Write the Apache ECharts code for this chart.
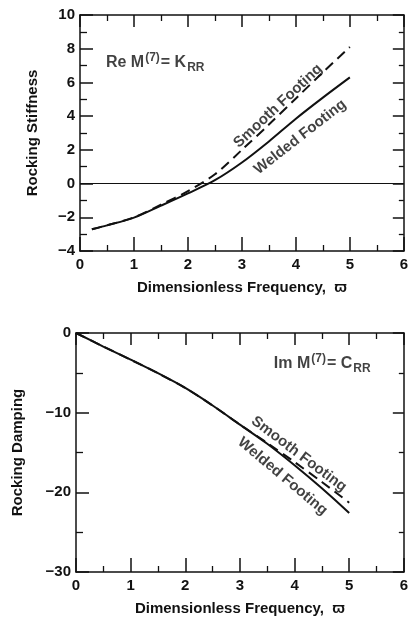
<!DOCTYPE html>
<html><head><meta charset="utf-8">
<script src="https://cdn.jsdelivr.net/npm/echarts@6/dist/echarts.min.js"></script>
<style>html,body{margin:0;padding:0;background:#fff}#c{width:411px;height:619px}</style>
</head><body><div id="c"></div>
<script>
// ---- data ----
const topFreq  = [0.22, 0.5, 1, 1.5, 2, 2.5, 3, 3.5, 4, 4.5, 5];
const weldedK  = [-2.71, -2.48, -2.02, -1.31, -0.58, 0.2, 1.25, 2.5, 3.85, 5.1, 6.3];
const smoothK  = [-2.71, -2.48, -2.0, -1.25, -0.45, 0.55, 2.0, 3.5, 5.05, 6.6, 8.1];
const botFreq  = [0, 0.5, 1, 1.5, 2, 2.5, 3, 3.5, 4, 4.5, 5];
const weldedC  = [0, -1.7, -3.35, -5.05, -6.9, -9.1, -11.5, -13.9, -16.6, -19.5, -22.6];
const smoothC  = [0, -1.7, -3.35, -5.05, -6.9, -9.1, -11.5, -13.8, -16.2, -18.7, -21.3];
const xTicks   = [0, 1, 2, 3, 4, 5, 6];
const yTicksTop = [-4, -2, 0, 2, 4, 6, 8, 10];
const yTicksBot = [-30, -20, -10, 0];
const xTitle = 'Dimensionless Frequency,  ϖ';
const yTitleTop = 'Rocking Stiffness';
const yTitleBot = 'Rocking Damping';
// annotation anchors (data coordinates)
const notesTop = [
  {name: 'Smooth Footing', x: 3.67, y: 4.6, rot: 43},
  {name: 'Welded Footing', x: 4.08, y: 2.76, rot: 38}
];
const notesBot = [
  {name: 'Smooth Footing', x: 4.08, y: -15.2, rot: -37},
  {name: 'Welded Footing', x: 3.78, y: -18.0, rot: -40}
];
const eqTop = {x: 0.48, y: 7.2};
const eqBot = {x: 3.62, y: -3.9};

const FONT = '"Liberation Sans", Arial, sans-serif';
const INK = '#111';
const zip = (a, b) => a.map((v, i) => [v, b[i]]);

function xAx(gi, pos, labels) {
  return {
    gridIndex: gi, type: 'value', position: pos, min: 0, max: 6, interval: 1,
    axisLine: {show: true, onZero: false, lineStyle: {color: INK, width: 1.5}},
    axisTick: {show: true, inside: true, length: pos === 'bottom' ? 14 : 12, lineStyle: {color: INK, width: 1.5}},
    minorTick: {show: true, splitNumber: 2, length: 6, lineStyle: {color: INK, width: 1.3}},
    axisLabel: {show: labels, color: INK, fontFamily: FONT, fontWeight: 'bold', fontSize: 15, margin: 6,
      formatter: v => xTicks.includes(v) ? String(v) : ''},
    splitLine: {show: false}, minorSplitLine: {show: false},
    name: labels ? xTitle : '', nameLocation: 'middle', nameGap: 29,
    nameTextStyle: {color: INK, fontFamily: FONT, fontWeight: 'bold', fontSize: 15}
  };
}
function yAx(gi, pos, labels, min, max, interval, ticks, title, gap) {
  return {
    gridIndex: gi, type: 'value', position: pos, min: min, max: max, interval: interval,
    axisLine: {show: true, onZero: false, lineStyle: {color: INK, width: 1.5}},
    axisTick: {show: true, inside: true, length: pos === 'left' ? 13 : 11, lineStyle: {color: INK, width: 1.5}},
    minorTick: {show: true, splitNumber: 2, length: pos === 'left' ? 7 : 5, lineStyle: {color: INK, width: 1.3}},
    axisLabel: {show: labels, color: INK, fontFamily: FONT, fontWeight: 'bold', fontSize: 15, margin: 5,
      formatter: v => ticks.includes(v) ? (v < 0 ? '\u2212' + Math.abs(v) : String(v)) : ''},
    splitLine: {show: false}, minorSplitLine: {show: false},
    name: labels ? title : '', nameLocation: 'middle', nameGap: gap, nameRotate: 90,
    nameTextStyle: {color: INK, fontFamily: FONT, fontWeight: 'bold', fontSize: 15}
  };
}
function noteSeries(xi, yi, notes) {
  return {
    type: 'scatter', xAxisIndex: xi, yAxisIndex: yi, symbolSize: 0, silent: true, z: 5,
    data: notes.map(n => ({value: [n.x, n.y], name: n.name,
      label: {show: true, position: 'inside', rotate: n.rot, formatter: n.name,
        color: INK, fontFamily: FONT, fontWeight: 'bold', fontSize: 15}}))
  };
}
function eqSeries(xi, yi, p, pre, sub) {
  return {
    type: 'scatter', xAxisIndex: xi, yAxisIndex: yi, symbolSize: 0, silent: true, z: 5,
    data: [{value: [p.x, p.y], label: {show: true, position: 'right', distance: 0,
      formatter: '{a|' + pre + ' M}{s|(7)}{a|= ' + sub[0] + '}{b|' + sub.slice(1) + '}',
      rich: {
        a: {color: INK, fontFamily: FONT, fontWeight: 'bold', fontSize: 16, lineHeight: 24, verticalAlign: 'middle'},
        s: {color: INK, fontFamily: FONT, fontWeight: 'bold', fontSize: 12, lineHeight: 24, padding: [0, 1, 10, 1]},
        b: {color: INK, fontFamily: FONT, fontWeight: 'bold', fontSize: 12, lineHeight: 24, padding: [10, 0, 0, 1]}
      }}}]
  };
}

const chart = echarts.init(document.getElementById('c'), null, {renderer: 'canvas'});
chart.setOption({
  backgroundColor: '#fff',
  animation: false,
  grid: [
    {left: 80, top: 15, width: 330, height: 236},
    {left: 76, top: 333, width: 334, height: 239}
  ],
  xAxis: [xAx(0, 'bottom', true), xAx(0, 'top', false), xAx(1, 'bottom', true), xAx(1, 'top', false)],
  yAxis: [
    yAx(0, 'left', true, -4, 10, 2, yTicksTop, yTitleTop, 40),
    yAx(0, 'right', false, -4, 10, 2, yTicksTop, '', 0),
    yAx(1, 'left', true, -30, 0, 10, yTicksBot, yTitleBot, 51),
    yAx(1, 'right', false, -30, 0, 10, yTicksBot, '', 0)
  ],
  series: [
    {type: 'line', xAxisIndex: 0, yAxisIndex: 0, data: zip(topFreq, weldedK), smooth: 0.3, symbol: 'none',
      lineStyle: {color: INK, width: 2},
      markLine: {silent: true, symbol: 'none', label: {show: false}, lineStyle: {color: INK, width: 1, type: 'solid'},
        data: [{yAxis: 0}]}},
    {type: 'line', xAxisIndex: 0, yAxisIndex: 0, data: zip(topFreq, smoothK), smooth: 0.3, symbol: 'none',
      lineStyle: {color: INK, width: 2, type: [10, 6]}},
    {type: 'line', xAxisIndex: 2, yAxisIndex: 2, data: zip(botFreq, weldedC), smooth: 0.3, symbol: 'none',
      lineStyle: {color: INK, width: 2}},
    {type: 'line', xAxisIndex: 2, yAxisIndex: 2, data: zip(botFreq, smoothC), smooth: 0.3, symbol: 'none',
      lineStyle: {color: INK, width: 2, type: [10, 6]}},
    noteSeries(0, 0, notesTop),
    noteSeries(2, 2, notesBot),
    eqSeries(0, 0, eqTop, 'Re', 'KRR'),
    eqSeries(2, 2, eqBot, 'Im', 'CRR')
  ]
});
</script></body></html>
